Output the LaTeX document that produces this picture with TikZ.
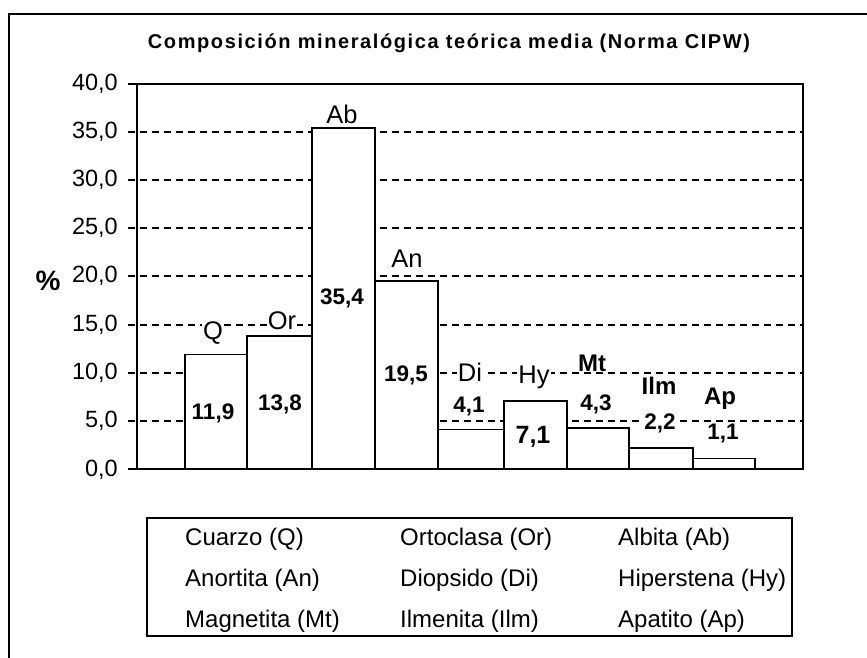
\documentclass[tikz,border=0pt]{standalone}
\usepackage{fontspec}
\setmainfont{Liberation Sans}
\usetikzlibrary{positioning}

\begin{document}
\begin{tikzpicture}[x=1pt, y=-1pt,
	outer/.style={line width=2.6pt},
	axisframe/.style={line width=2.4pt},
	gridline/.style={dash pattern=on 7pt off 5pt, line width=1.4pt},
	barbox/.style={draw=black, fill=white, line width=1.8pt},
	ylabel/.style={anchor=east, inner sep=0pt, font=\fontsize{23.5}{25}\selectfont},
	mineral/.style={fill=white, inner sep=1pt, font=\fontsize{25.5}{27}\selectfont},
	pct/.style={fill=white, inner sep=1pt, font=\fontsize{22.5}{24}\selectfont\bfseries},
	legendtext/.style={anchor=base west, inner sep=0pt, font=\fontsize{24}{26}\selectfont}
	]
	\useasboundingbox (0,0) rectangle (867,658);

	\draw [outer] (9,658) -- (9,14) -- (867,14);

	\node (title) at (449,43) {\fontsize{20}{22}\selectfont\bfseries\addfontfeature{LetterSpace=8}Composición mineralógica teórica media (Norma CIPW)};

	% grid
	\draw [gridline] (128,132) -- (803,132);
	\draw [gridline] (128,180) -- (803,180);
	\draw [gridline] (128,228) -- (803,228);
	\draw [gridline] (128,276) -- (803,276);
	\draw [gridline] (128,325) -- (803,325);
	\draw [gridline] (128,373) -- (803,373);
	\draw [gridline] (128,421) -- (803,421);
	\draw [line width=1.4pt] (128,84) -- (137,84);
	\draw [line width=1.4pt] (128,469) -- (137,469);

	% bars
	\draw [barbox] (185,469) rectangle (247,354.5);
	\draw [barbox] (247,469) rectangle (312,336.2);
	\draw [barbox] (312,469) rectangle (375,128.3);
	\draw [barbox] (375,469) rectangle (438,281.3);
	\draw [barbox] (438,469) rectangle (504,429.5);
	\draw [barbox] (504,469) rectangle (567,400.7);
	\draw [barbox] (567,469) rectangle (629,427.6);
	\draw [barbox] (629,469) rectangle (693,447.8);
	\draw [barbox] (693,469) rectangle (755,458.4);

	\draw [axisframe] (137,84) rectangle (803,469);

	% axis
	\node (y40) [ylabel] at (118,84) {40,0};
	\node (y35) [ylabel] at (118,132) {35,0};
	\node (y30) [ylabel] at (118,180) {30,0};
	\node (y25) [ylabel] at (118,228) {25,0};
	\node (y20) [ylabel] at (118,276) {20,0};
	\node (y15) [ylabel] at (118,325) {15,0};
	\node (y10) [ylabel] at (118,373) {10,0};
	\node (y5) [ylabel] at (118,421) {5,0};
	\node (y0) [ylabel] at (118,470) {0,0};
	\node (percent) at (48,281) {\fontsize{28}{30}\selectfont\bfseries\%};

	% labels
	\node (q) [mineral] at (213,333) {Q};
	\node (or) [mineral] at (282,321) {Or};
	\node (ab) [mineral] at (342,114) {Ab};
	\node (an) [mineral] at (407,259) {An};
	\node (di) [mineral] at (470,372) {Di};
	\node (hy) [mineral] at (534,377) {Hy};
	\node (mt) [mineral, font=\fontsize{24}{26}\selectfont\bfseries] at (592,363) {Mt};
	\node (ilm) [mineral, font=\fontsize{24}{26}\selectfont\bfseries] at (659,386) {Ilm};
	\node (ap) [mineral, font=\fontsize{24}{26}\selectfont\bfseries] at (720,399) {Ap};

	\node (qval) [pct] at (213,413) {11,9};
	\node (orval) [pct] at (280,404) {13,8};
	\node (abval) [pct] at (342,298) {35,4};
	\node (anval) [pct] at (406,375) {19,5};
	\node (dival) [pct] at (469,406) {4,1};
	\node (hyval) [pct, font=\fontsize{25}{27}\selectfont\bfseries] at (533,437) {7,1};
	\node (mtval) [pct] at (596,404) {4,3};
	\node (ilmval) [pct] at (660,423) {2,2};
	\node (apval) [pct] at (723,433) {1,1};

	% legend
	\draw [line width=1.6pt] (147,518) rectangle (792,636);
	\node (lq) [legendtext] at (185,545) {Cuarzo (Q)};
	\node (lor) [legendtext] at (400,545) {Ortoclasa (Or)};
	\node (lab) [legendtext] at (618,545) {Albita (Ab)};
	\node (lan) [legendtext] at (185,586) {Anortita (An)};
	\node (ldi) [legendtext] at (400,586) {Diopsido (Di)};
	\node (lhy) [legendtext] at (618,586) {Hiperstena (Hy)};
	\node (lmt) [legendtext] at (185,627) {Magnetita (Mt)};
	\node (lilm) [legendtext] at (400,627) {Ilmenita (Ilm)};
	\node (lap) [legendtext] at (618,627) {Apatito (Ap)};

\end{tikzpicture}
\end{document}
